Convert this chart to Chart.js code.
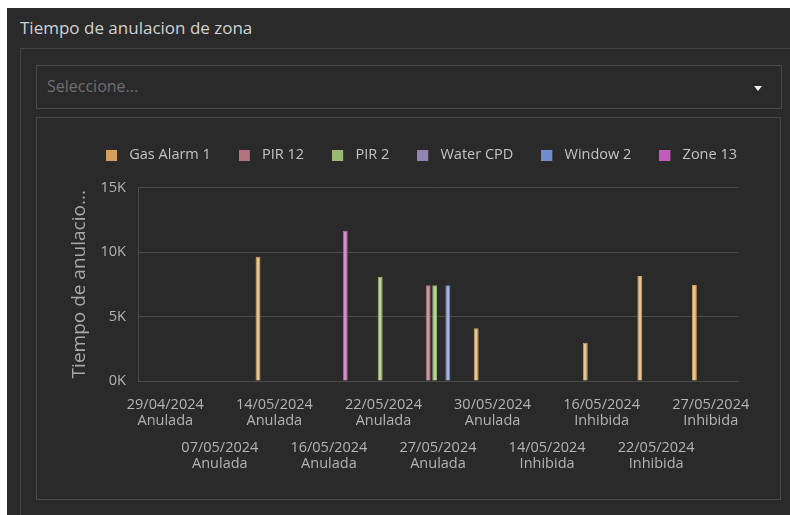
<!DOCTYPE html>
<html>
<head>
<meta charset="utf-8">
<script src="https://cdn.jsdelivr.net/npm/chart.js@4.4.1/dist/chart.umd.min.js"></script>
<style>
  body { margin: 0; width: 790px; height: 515px; overflow: hidden; background: #fff; font-family: "Open Sans", sans-serif; }
  #page { position: absolute; left: 7px; top: 8px; width: 783px; height: 507px; background: #2a2a2a; }
  #title { position: absolute; left: 20px; top: 16px; font-size: 17px; color: #d2d2d2; }
  #panel { position: absolute; left: 20px; top: 48px; width: 800px; height: 500px; border: 1px solid #444; }
  #select { position: absolute; left: 36px; top: 65px; width: 744px; height: 42px; border: 1px solid #484848; }
  #select span { position: absolute; left: 10px; top: 9px; font-size: 16px; color: #6e6e6e; }
  #caret { position: absolute; left: 717px; top: 20px; width: 0; height: 0;
           border-left: 4px solid transparent; border-right: 4px solid transparent; border-top: 5px solid #eee; }
  #box { position: absolute; left: 36px; top: 117px; width: 743px; height: 381px; border: 1px solid #484848; }
  #chart-wrap { position: absolute; left: 0; top: 0; width: 743px; height: 381px; }
</style>
</head>
<body>
<div id="page"></div>
<div id="title">Tiempo de anulacion de zona</div>
<div id="panel"></div>
<div id="select"><span>Seleccione...</span><div id="caret"></div></div>
<div id="box"><div id="chart-wrap"><canvas id="zone-chart"></canvas></div></div>
<script>
// Categories (date + state)
const dates = ['29/04/2024', '07/05/2024', '14/05/2024', '16/05/2024', '22/05/2024', '27/05/2024',
               '30/05/2024', '14/05/2024', '16/05/2024', '22/05/2024', '27/05/2024'];
const states = ['Anulada', 'Anulada', 'Anulada', 'Anulada', 'Anulada', 'Anulada',
                'Anulada', 'Inhibida', 'Inhibida', 'Inhibida', 'Inhibida'];

// Series values
const gasAlarm1 = [null, null, 9630, null, null, null, 4080, null, 2970, 8140, 7440];
const pir12     = [null, null, null, null, null, 7420, null, null, null, null, null];
const pir2      = [null, null, null, null, 8090, 7420, null, null, null, null, null];
const waterCpd  = [null, null, null, null, null, null, null, null, null, null, null];
const window2   = [null, null, null, null, null, 7420, null, null, null, null, null];
const zone13    = [null, null, null, 11650, null, null, null, null, null, null, null];

const seriesNames = ['Gas Alarm 1', 'PIR 12', 'PIR 2', 'Water CPD', 'Window 2', 'Zone 13'];
const seriesValues = [gasAlarm1, pir12, pir2, waterCpd, window2, zone13];
const lineColors = ['#d4a15c', '#b47380', '#9bb774', '#9484b6', '#6e8ecd', '#c45abd'];
const fillColors = ['#e6c792', '#c99aa3', '#c0d2a2', '#b7a9cf', '#a3b5df', '#d88dd1'];

// Y ticks (thousands)
const yMax = 15000;
const yStep = 5000;

const textColor = '#b4b4b4';
const gridColor = '#4a4a4a';
const fontFamily = '"Open Sans", sans-serif';
const labels = dates.map((d, i) => [d, states[i]]);

// small square image so the gap between box and text matches
function legendBox(color) {
    const c = document.createElement('canvas');
    c.width = 16;
    c.height = 11;
    const g = c.getContext('2d');
    g.fillStyle = color;
    g.fillRect(0, 0, 11, 11);
    return c;
}

// extra room under the legend
const legendGap = {
    id: 'legendGap',
    beforeLayout(chart) {
        const lg = chart.legend;
        if (lg && !lg._gapDone) {
            const fit = lg.fit;
            lg.fit = function () { fit.call(this); this.height += 15; };
            lg._gapDone = true;
        }
    }
};

const tickFont = { family: fontFamily, size: 14.5, lineHeight: 1.1 };

new Chart(document.getElementById('zone-chart'), {
    type: 'bar',
    data: {
        labels: labels,
        datasets: seriesNames.map((name, i) => ({
            label: name,
            data: seriesValues[i],
            backgroundColor: fillColors[i],
            borderColor: lineColors[i],
            borderWidth: 1,
            categoryPercentage: 0.72,
            barPercentage: 0.75
        }))
    },
    plugins: [legendGap],
    options: {
        responsive: true,
        maintainAspectRatio: false,
        animation: false,
        layout: { padding: { left: 27, right: 15, top: 2, bottom: 0 } },
        plugins: {
            tooltip: { enabled: false },
            legend: {
                position: 'top',
                align: 'end',
                labels: {
                    color: '#c4c4c4',
                    font: { family: fontFamily, size: 14.5 },
                    padding: 28,
                    usePointStyle: true,
                    pointStyleWidth: 16,
                    generateLabels: (chart) => {
                        const items = Chart.defaults.plugins.legend.labels.generateLabels(chart);
                        items.forEach((it, i) => { it.pointStyle = legendBox(lineColors[i]); });
                        return items;
                    }
                }
            }
        },
        scales: {
            x: {
                afterFit: (scale) => { scale.height = 47; },
                grid: {
                    drawTicks: false,
                    color: (ctx) => (ctx.index === 0 || ctx.index === labels.length) ? gridColor : 'transparent'
                },
                border: { color: gridColor },
                ticks: {
                    color: textColor,
                    font: tickFont,
                    padding: 16,
                    autoSkip: false,
                    maxRotation: 0,
                    minRotation: 0,
                    callback: (v, i) => i % 2 === 0 ? labels[i] : ''
                }
            },
            x2: {
                type: 'category',
                position: 'bottom',
                offset: true,
                afterFit: (scale) => { scale.height = 71; },
                grid: { display: false, drawTicks: false },
                border: { display: false },
                ticks: {
                    color: textColor,
                    font: tickFont,
                    padding: 12,
                    autoSkip: false,
                    maxRotation: 0,
                    minRotation: 0,
                    callback: (v, i) => i % 2 === 1 ? labels[i] : ''
                }
            },
            y: {
                min: 0,
                max: yMax,
                afterFit: (scale) => { scale.width = 74; },
                grid: { color: gridColor, drawTicks: false },
                border: { color: gridColor },
                ticks: {
                    stepSize: yStep,
                    color: textColor,
                    font: { family: fontFamily, size: 14.5 },
                    padding: 12,
                    callback: (v) => (v / 1000) + 'K'
                },
                title: {
                    display: true,
                    text: 'Tiempo de anulacio...',
                    color: '#a8a8a8',
                    font: { family: fontFamily, size: 19 }
                }
            },
            // empty spacer on the right so the legend lines up with the plot edge
            yR: {
                position: 'right',
                grid: { display: false },
                border: { display: false },
                ticks: { display: false },
                afterFit: (scale) => { scale.width = 27; }
            }
        }
    }
});
</script>
</body>
</html>
